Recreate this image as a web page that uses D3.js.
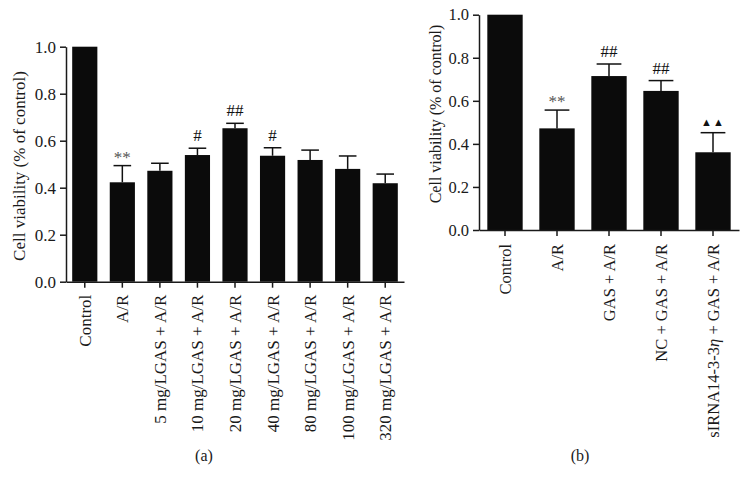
<!DOCTYPE html>
<html>
<head>
<meta charset="utf-8">
<script src="https://cdn.jsdelivr.net/npm/d3@7"></script>
<style>
	body { margin: 0; background: #fff; }
	svg { font-family: 'Liberation Serif', 'Times New Roman', serif; }
	.axis path, .axis line { stroke: #1a1a1a; stroke-width: 1.5; }
</style>
</head>
<body>
<div id="chart"></div>
<script>
let width = 751
let height = 488

// panel (a)
let labelsA = ['Control', 'A/R', '5 mg/LGAS + A/R', '10 mg/LGAS + A/R', '20 mg/LGAS + A/R',
	'40 mg/LGAS + A/R', '80 mg/LGAS + A/R', '100 mg/LGAS + A/R', '320 mg/LGAS + A/R']
let meansA = [1.0, 0.423, 0.472, 0.539, 0.653, 0.536, 0.518, 0.480, 0.419]
let errA = [0, 0.071, 0.032, 0.029, 0.021, 0.034, 0.042, 0.055, 0.039]
let marksA = ['', '**', '', '#', '##', '#', '', '', '']

// panel (b)
let labelsB = ['Control', 'A/R', 'GAS + A/R', 'NC + GAS + A/R', 'sIRNA14-3-3η + GAS + A/R']
let meansB = [1.0, 0.472, 0.715, 0.646, 0.361]
let errB = [0, 0.085, 0.056, 0.048, 0.091]
let marksB = ['', '**', '##', '##', '▲▲']

let yTicks = [0, 0.2, 0.4, 0.6, 0.8, 1.0]

let svg = d3.select('#chart').append('svg')
	.attr('width', width)
	.attr('height', height)

function panel(opts) {
	let g = svg.append('g')

	let xScale = d3.scaleBand()
		.domain(opts.labels)
		.range([opts.left, opts.right])
		.paddingInner(opts.pad)
		.paddingOuter(opts.pad / 2)

	let yScale = d3.scaleLinear()
		.domain([0, 1])
		.range([opts.bottom, opts.top])

	let data = opts.labels.map((l, i) => ({ label: l, mean: opts.means[i], err: opts.errs[i], mark: opts.marks[i] }))

	// bars
	g.append('g').selectAll('rect')
		.data(data)
		.enter().append('rect')
		.attr('x', d => xScale(d.label))
		.attr('width', xScale.bandwidth())
		.attr('y', d => yScale(d.mean))
		.attr('height', d => yScale(0) - yScale(d.mean))
		.attr('fill', '#0b0b0b')

	// error bars (upper only)
	let eb = g.append('g').selectAll('g')
		.data(data.filter(d => d.err > 0))
		.enter().append('g')
	eb.append('line')
		.attr('x1', d => xScale(d.label) + xScale.bandwidth() / 2)
		.attr('x2', d => xScale(d.label) + xScale.bandwidth() / 2)
		.attr('y1', d => yScale(d.mean))
		.attr('y2', d => yScale(d.mean + d.err))
		.attr('stroke', '#111').attr('stroke-width', 1.5)
	eb.append('line')
		.attr('x1', d => xScale(d.label) + xScale.bandwidth() * 0.15)
		.attr('x2', d => xScale(d.label) + xScale.bandwidth() * 0.85)
		.attr('y1', d => yScale(d.mean + d.err))
		.attr('y2', d => yScale(d.mean + d.err))
		.attr('stroke', '#111').attr('stroke-width', 1.5)

	// significance marks
	g.append('g').selectAll('text')
		.data(data.filter(d => d.mark))
		.enter().append('text')
		.attr('x', d => xScale(d.label) + xScale.bandwidth() / 2)
		.attr('y', d => yScale(d.mean + d.err) - (d.mark == '**' ? 3 : 7))
		.attr('text-anchor', 'middle')
		.style('font-size', d => d.mark == '▲▲' ? '11px' : '17px')
		.style('fill', d => d.mark == '**' ? '#555' : '#111')
		.style('letter-spacing', d => d.mark == '▲▲' ? '1px' : '0px')
		.text(d => d.mark)

	// y axis
	let yAxis = d3.axisLeft(yScale)
		.tickValues(yTicks)
		.tickFormat(d3.format('.1f'))
		.tickSize(6)
		.tickSizeOuter(0)
		.tickPadding(4)
	let ya = g.append('g')
		.attr('class', 'axis')
		.attr('transform', `translate(${opts.left},0)`)
		.call(yAxis)
	ya.selectAll('text')
		.style('font-family', "'Liberation Serif', serif")
		.style('font-size', opts.fs + 'px')
		.style('fill', '#1a1a1a')

	// x axis
	let xAxis = d3.axisBottom(xScale)
		.tickSize(6)
		.tickSizeOuter(0)
	let xa = g.append('g')
		.attr('class', 'axis')
		.attr('transform', `translate(0,${opts.bottom})`)
		.call(xAxis)
	xa.selectAll('text')
		.style('font-family', "'Liberation Serif', serif")
		.style('font-size', opts.fs + 'px')
		.style('fill', '#1a1a1a')
		.attr('transform', 'rotate(-90)')
		.attr('text-anchor', 'end')
		.attr('x', -opts.labelGap)
		.attr('y', 0)
		.attr('dy', '0.35em')
		.each(function (d) {
			let t = d3.select(this)
			if (d.indexOf('η') >= 0) {
				let parts = d.split('η')
				t.text(null)
				t.append('tspan').text(parts[0])
				t.append('tspan').style('font-style', 'italic').text('η')
				t.append('tspan').text(parts[1])
			}
		})

	// axis title
	g.append('text')
		.attr('transform', `translate(${opts.titleX},${opts.titleY}) rotate(-90)`)
		.attr('text-anchor', 'middle')
		.attr('dy', '0.35em')
		.style('font-size', opts.titleFs + 'px')
		.style('fill', '#1a1a1a')
		.text('Cell viability (% of control)')

	// panel label
	g.append('text')
		.attr('x', opts.panelX)
		.attr('y', 461)
		.attr('text-anchor', 'middle')
		.style('font-size', '16px')
		.style('fill', '#1a1a1a')
		.text(opts.panel)
}

panel({
	labels: labelsA, means: meansA, errs: errA, marks: marksA,
	left: 66, right: 404, top: 46.7, bottom: 281.7, pad: 0.33,
	fs: 17, titleFs: 17,
	labelGap: 13, titleX: 19, titleY: 166, panelX: 204, panel: '(a)'
})

panel({
	labels: labelsB, means: meansB, errs: errB, marks: marksB,
	left: 479, right: 739, top: 14.7, bottom: 230, pad: 0.32,
	fs: 16.5, titleFs: 16,
	labelGap: 14, titleX: 435, titleY: 114, panelX: 580, panel: '(b)'
})
</script>
</body>
</html>
